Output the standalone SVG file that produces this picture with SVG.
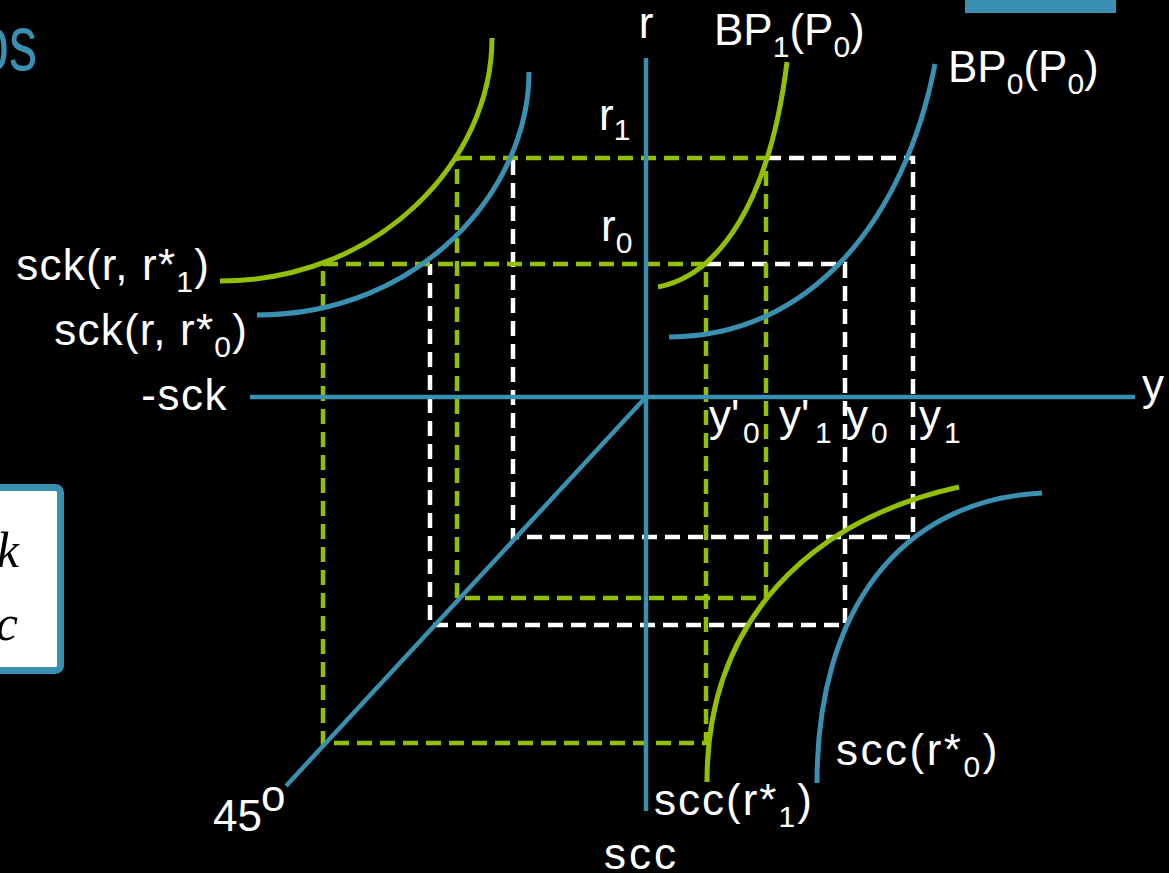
<svg xmlns="http://www.w3.org/2000/svg" width="1169" height="873" viewBox="0 0 1169 873">
<style>
  .lbl { font-family: "Liberation Sans", Arial, sans-serif; font-size: 44px; fill: #ffffff; }
  .sub { font-size: 30px; }
  .wd { stroke: #ffffff; stroke-width: 4.5; fill: none; stroke-dasharray: 15 8; }
  .gd { stroke: #92c000; stroke-width: 4.5; fill: none; stroke-dasharray: 15 8; }
  .ax { stroke: #3a90b1; stroke-width: 4.5; fill: none; }
  .cb { stroke: #3a90b1; stroke-width: 5; fill: none; }
  .cg { stroke: #92c000; stroke-width: 5; fill: none; }
</style>
<rect x="0" y="0" width="1169" height="873" fill="#000000"/>

<g id="title">
  <text transform="translate(37,70) scale(0.72,1)" text-anchor="end" font-family="Liberation Sans, Arial, sans-serif" font-size="78" fill="#3a90b1">os</text>
</g>
<rect id="top-bar" x="965" y="0" width="151" height="13" fill="#3a90b1"/>

<g id="formula-box">
  <rect x="-20" y="487.5" width="80.5" height="183" rx="5" fill="#ffffff" stroke="#3a90b1" stroke-width="7"/>
  <text x="19" y="567" text-anchor="end" font-family="Liberation Serif, 'Times New Roman', serif" font-style="italic" font-size="50" fill="#000000">k</text>
  <text x="18" y="640" text-anchor="end" font-family="Liberation Serif, 'Times New Roman', serif" font-style="italic" font-size="50" fill="#000000">c</text>
</g>

<g id="dashed-white">
  <path class="wd" d="M766 158 H913 V537 H513 V158"/>
  <path class="wd" d="M706 264 H845 V625 H430 V264"/>
</g>
<g id="dashed-green">
  <path class="gd" d="M457 158 H766 V598 H457 Z"/>
  <path class="gd" d="M323 264 H706 V743 H323 Z"/>
</g>

<g id="axes">
  <line class="ax" x1="646" y1="58" x2="646" y2="811"/>
  <line class="ax" x1="250" y1="397" x2="1135" y2="397"/>
  <line class="ax" x1="646" y1="397" x2="286" y2="786"/>
</g>

<g id="curves">
  <path id="sck1" class="cg" d="M492 38 C492 160 380 281 220 281"/>
  <path id="sck0" class="cb" d="M529 72 C529 190 420 315 257 315"/>
  <path id="bp1" class="cg" d="M787 62 C770 200 720 275 658 287"/>
  <path id="bp0" class="cb" d="M935 64 C905 220 810 337 669 337"/>
  <path id="scc1" class="cg" d="M959 487 C810 520 707 620 707 782"/>
  <path id="scc0" class="cb" d="M1042 493 C900 500 817 610 817 783"/>
</g>

<g id="labels">
  <text class="lbl" x="646" y="38" text-anchor="middle">r</text>
  <text class="lbl" x="714" y="45">BP<tspan class="sub" dy="12">1</tspan><tspan dy="-12">(P</tspan><tspan class="sub" dy="12">0</tspan><tspan dy="-12">)</tspan></text>
  <text class="lbl" x="948" y="82">BP<tspan class="sub" dy="12">0</tspan><tspan dy="-12">(P</tspan><tspan class="sub" dy="12">0</tspan><tspan dy="-12">)</tspan></text>
  <text class="lbl" x="599" y="130">r<tspan class="sub" dy="10">1</tspan></text>
  <text class="lbl" x="601" y="241">r<tspan class="sub" dy="12">0</tspan></text>
  <text class="lbl" x="210" y="280" text-anchor="end" letter-spacing="1.2">sck(r, r*<tspan class="sub" dy="12">1</tspan><tspan dy="-12">)</tspan></text>
  <text class="lbl" x="248" y="345" text-anchor="end" letter-spacing="1.2">sck(r, r*<tspan class="sub" dy="12">0</tspan><tspan dy="-12">)</tspan></text>
  <text class="lbl" x="228" y="410" text-anchor="end" letter-spacing="1.5">-sck</text>
  <text class="lbl" x="1142" y="400">y</text>
  <text class="lbl" x="709" y="431">y'</text><text class="lbl sub" x="743" y="443">0</text>
  <text class="lbl" x="779" y="431">y'</text><text class="lbl sub" x="815" y="443">1</text>
  <text class="lbl" x="846" y="431">y</text><text class="lbl sub" x="871" y="443">0</text>
  <text class="lbl" x="919" y="431">y</text><text class="lbl sub" x="944" y="443">1</text>
  <text class="lbl" x="213" y="831">45</text><text class="lbl" x="261" y="811" font-size="26">o</text>
  <text class="lbl" x="654" y="815" letter-spacing="2">scc(r*<tspan class="sub" dy="12">1</tspan><tspan dy="-12">)</tspan></text>
  <text class="lbl" x="836" y="765" letter-spacing="2.5">scc(r*<tspan class="sub" dy="12">0</tspan><tspan dy="-12">)</tspan></text>
  <text class="lbl" x="604" y="869" letter-spacing="3">scc</text>
</g>
</svg>
